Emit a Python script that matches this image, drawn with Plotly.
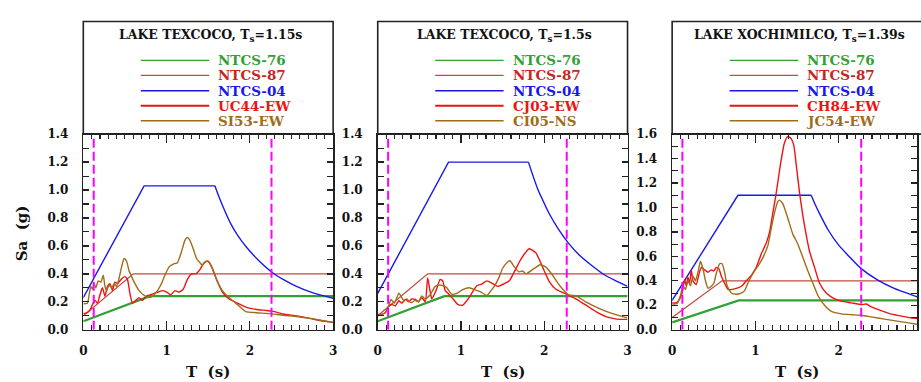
import plotly.graph_objects as go

# ---------------- data ----------------
titles = ["LAKE TEXCOCO, T<sub>s</sub>=1.15s",
          "LAKE TEXCOCO, T<sub>s</sub>=1.5s",
          "LAKE XOCHIMILCO, T<sub>s</sub>=1.39s"]
record_names_red = ["UC44-EW", "CJ03-EW", "CH84-EW"]
record_names_brown = ["SI53-EW", "CI05-NS", "JC54-EW"]
code_names = ["NTCS-76", "NTCS-87", "NTCS-04"]

y_max = [1.4, 1.4, 1.6]
x_max = [3.0, 3.0, 2.94]
x_ticks = [0, 1, 2, 3]
y_ticks_14 = [0.0, 0.2, 0.4, 0.6, 0.8, 1.0, 1.2, 1.4]
y_ticks_16 = [0.0, 0.2, 0.4, 0.6, 0.8, 1.0, 1.2, 1.4, 1.6]

# design spectra
ntcs76_T = [0, 0.8, 3.0]
ntcs76_Sa = [0.06, 0.24, 0.24]
ntcs87_T = [0, 0.6, 3.0]
ntcs87_Sa = [0.10, 0.40, 0.40]

p1_04_T = [0, 0.73, 1.58]
p1_04_Sa = [0.23, 1.03, 1.03]
p1_04d_T = [1.58, 1.63, 1.70, 1.77, 1.86, 1.96, 2.10, 2.27, 2.40, 2.56, 2.75, 3.0]
p1_04d_Sa = [1.03, 0.95, 0.85, 0.76, 0.67, 0.59, 0.50, 0.41, 0.36, 0.31, 0.265, 0.225]

p2_04_T = [0, 0.85, 1.81]
p2_04_Sa = [0.26, 1.2, 1.2]
p2_04d_T = [1.81, 1.86, 1.92, 1.98, 2.06, 2.17, 2.29, 2.42, 2.57, 2.73, 2.88, 3.0]
p2_04d_Sa = [1.2, 1.11, 1.01, 0.93, 0.83, 0.72, 0.62, 0.535, 0.46, 0.39, 0.345, 0.31]

p3_04_T = [0, 0.79, 1.67]
p3_04_Sa = [0.24, 1.1, 1.1]
p3_04d_T = [1.67, 1.72, 1.77, 1.87, 1.99, 2.11, 2.27, 2.46, 2.66, 2.94, 3.0]
p3_04d_Sa = [1.1, 1.02, 0.95, 0.82, 0.70, 0.61, 0.50, 0.41, 0.34, 0.27, 0.255]

# recorded spectra, panel 1
p1_uc44_T = [0, 0.04, 0.08, 0.11, 0.14, 0.17, 0.20, 0.23, 0.26, 0.29,
             0.32, 0.35, 0.38, 0.41, 0.44, 0.47, 0.50, 0.53, 0.56, 0.59,
             0.63, 0.67, 0.71, 0.75, 0.80, 0.85, 0.90, 0.95, 1.00, 1.05,
             1.10, 1.15, 1.20, 1.25, 1.30, 1.35, 1.40, 1.45, 1.50, 1.55,
             1.60, 1.67, 1.75, 1.85, 1.96, 2.08, 2.20, 2.28, 2.40, 2.56,
             2.72, 2.88, 3.0]
p1_uc44_Sa = [0.115, 0.12, 0.14, 0.18, 0.21, 0.19, 0.25, 0.30, 0.24, 0.31,
              0.33, 0.28, 0.34, 0.33, 0.35, 0.37, 0.38, 0.36, 0.26, 0.19,
              0.21, 0.23, 0.21, 0.24, 0.25, 0.26, 0.27, 0.28, 0.27, 0.25,
              0.28, 0.27, 0.29, 0.36, 0.40, 0.40, 0.43, 0.48, 0.49, 0.44,
              0.36, 0.27, 0.22, 0.19, 0.16, 0.145, 0.138, 0.131, 0.113, 0.099,
              0.081, 0.062, 0.053]
p1_si53_T = [0, 0.05, 0.07, 0.09, 0.11, 0.13, 0.15, 0.18, 0.21, 0.24,
             0.26, 0.28, 0.31, 0.34, 0.37, 0.40, 0.43, 0.46, 0.49, 0.52,
             0.55, 0.58, 0.62, 0.67, 0.72, 0.78, 0.83, 0.88, 0.93, 0.98,
             1.03, 1.08, 1.13, 1.18, 1.22, 1.25, 1.28, 1.32, 1.36, 1.40,
             1.43, 1.47, 1.50, 1.54, 1.60, 1.67, 1.77, 1.85, 1.95, 2.08,
             2.24, 2.40, 2.56, 2.72, 2.88, 3.0]
p1_si53_Sa = [0.185, 0.19, 0.25, 0.31, 0.29, 0.33, 0.30, 0.35, 0.34, 0.39,
              0.31, 0.28, 0.32, 0.30, 0.33, 0.31, 0.37, 0.45, 0.51, 0.49,
              0.42, 0.38, 0.33, 0.28, 0.25, 0.23, 0.24, 0.27, 0.32, 0.39,
              0.45, 0.47, 0.48, 0.56, 0.64, 0.66, 0.64, 0.58, 0.51, 0.48,
              0.46, 0.49, 0.49, 0.45, 0.36, 0.28, 0.22, 0.18, 0.13, 0.122,
              0.115, 0.103, 0.095, 0.081, 0.065, 0.052]

# recorded spectra, panel 2
p2_cj03_T = [0, 0.05, 0.095, 0.135, 0.175, 0.21, 0.254, 0.29, 0.333, 0.37,
             0.41, 0.452, 0.49, 0.53, 0.571, 0.60, 0.625, 0.65, 0.70, 0.75,
             0.78, 0.81, 0.845, 0.905, 0.964, 1.02, 1.08, 1.13, 1.19, 1.25,
             1.31, 1.38, 1.44, 1.52, 1.58, 1.64, 1.72, 1.82, 1.90, 1.98,
             2.06, 2.14, 2.29, 2.39, 2.51, 2.63, 2.75, 2.87, 3.0]
p2_cj03_Sa = [0.11, 0.11, 0.126, 0.172, 0.18, 0.17, 0.207, 0.19, 0.217, 0.20,
              0.22, 0.217, 0.20, 0.23, 0.20, 0.37, 0.29, 0.22, 0.28, 0.36,
              0.35, 0.28, 0.26, 0.22, 0.18, 0.175, 0.215, 0.262, 0.315, 0.327,
              0.35, 0.33, 0.31, 0.33, 0.35, 0.414, 0.506, 0.58, 0.55, 0.448,
              0.345, 0.29, 0.248, 0.218, 0.172, 0.126, 0.092, 0.076, 0.074]
p2_ci05_T = [0, 0.05, 0.09, 0.12, 0.16, 0.20, 0.254, 0.28, 0.31, 0.35,
             0.38, 0.41, 0.45, 0.49, 0.53, 0.57, 0.63, 0.69, 0.75, 0.80,
             0.83, 0.89, 0.95, 1.02, 1.10, 1.17, 1.24, 1.31, 1.37, 1.42,
             1.46, 1.50, 1.56, 1.59, 1.64, 1.70, 1.74, 1.78, 1.86, 1.95,
             2.02, 2.10, 2.18, 2.29, 2.39, 2.51, 2.67, 2.82, 3.0]
p2_ci05_Sa = [0.10, 0.11, 0.12, 0.15, 0.216, 0.19, 0.262, 0.24, 0.21, 0.22,
              0.20, 0.195, 0.21, 0.20, 0.241, 0.22, 0.25, 0.31, 0.32, 0.31,
              0.30, 0.253, 0.26, 0.287, 0.30, 0.285, 0.27, 0.245, 0.287, 0.33,
              0.38, 0.44, 0.485, 0.494, 0.45, 0.414, 0.42, 0.40, 0.43, 0.465,
              0.448, 0.39, 0.32, 0.25, 0.241, 0.195, 0.149, 0.115, 0.085]

# recorded spectra, panel 3
p3_ch84_T = [0, 0.05, 0.09, 0.12, 0.15, 0.17, 0.19, 0.21, 0.23, 0.25,
             0.27, 0.29, 0.32, 0.35, 0.39, 0.43, 0.47, 0.50, 0.53, 0.56,
             0.59, 0.63, 0.67, 0.72, 0.78, 0.84, 0.89, 0.95, 1.01, 1.07,
             1.13, 1.17, 1.21, 1.25, 1.30, 1.345, 1.385, 1.42, 1.46, 1.49,
             1.53, 1.57, 1.61, 1.65, 1.71, 1.77, 1.85, 1.93, 2.03, 2.15,
             2.27, 2.33, 2.40, 2.50, 2.62, 2.74, 2.86, 2.94, 3.0]
p3_ch84_Sa = [0.22, 0.22, 0.25, 0.30, 0.41, 0.36, 0.43, 0.38, 0.49, 0.40,
              0.38, 0.37, 0.45, 0.51, 0.49, 0.47, 0.49, 0.48, 0.51, 0.50,
              0.44, 0.38, 0.33, 0.33, 0.34, 0.36, 0.40, 0.445, 0.51, 0.62,
              0.71, 0.80, 0.96, 1.12, 1.35, 1.52, 1.58, 1.57, 1.51, 1.35,
              1.12, 0.93, 0.775, 0.64, 0.51, 0.38, 0.30, 0.26, 0.234, 0.22,
              0.205, 0.21, 0.184, 0.158, 0.13, 0.113, 0.097, 0.092, 0.088]
p3_jc54_T = [0, 0.06, 0.10, 0.13, 0.16, 0.19, 0.22, 0.25, 0.28, 0.31,
             0.34, 0.37, 0.40, 0.43, 0.46, 0.50, 0.53, 0.57, 0.60, 0.63,
             0.66, 0.71, 0.77, 0.83, 0.87, 0.91, 0.97, 1.03, 1.09, 1.15,
             1.19, 1.23, 1.27, 1.29, 1.33, 1.39, 1.45, 1.51, 1.57, 1.63,
             1.69, 1.75, 1.83, 1.91, 2.03, 2.15, 2.27, 2.39, 2.55, 2.74,
             2.94, 3.0]
p3_jc54_Sa = [0.21, 0.215, 0.28, 0.36, 0.33, 0.40, 0.36, 0.44, 0.40, 0.47,
              0.56, 0.50, 0.40, 0.34, 0.35, 0.38, 0.46, 0.54, 0.54, 0.47,
              0.36, 0.30, 0.29, 0.30, 0.32, 0.38, 0.46, 0.52, 0.59, 0.69,
              0.83, 0.96, 1.05, 1.06, 1.03, 0.91, 0.78, 0.70, 0.59, 0.48,
              0.38, 0.28, 0.20, 0.15, 0.13, 0.123, 0.118, 0.105, 0.087, 0.066,
              0.045, 0.04]

# period-range markers (dashed magenta)
t_low = [0.125, 0.125, 0.123]
t_high = [2.26, 2.27, 2.27]

# ---------------- styling ----------------
W, H = 921, 382
C76 = "#33a033"
C87_LINE = "#c24b42"
C87_TEXT = "#c8261c"
C04 = "#1818ee"
CRED = "#f01212"
CBRN = "#a06c1a"
CMAG = "#ff00ff"
AX = "#222222"
SERIF = "DejaVu Serif"

panel_left_px = [80, 377, 674]
panel_w_px = 252
plot_top_px, plot_bot_px, box_top_px = 132, 335, 15


def px_x(px):
    return px / W


def px_y(py):
    return 1 - py / H


fig = go.Figure()

blue_rise = [(p1_04_T, p1_04_Sa), (p2_04_T, p2_04_Sa), (p3_04_T, p3_04_Sa)]
blue_decay = [(p1_04d_T, p1_04d_Sa), (p2_04d_T, p2_04d_Sa), (p3_04d_T, p3_04d_Sa)]
reds = [(p1_uc44_T, p1_uc44_Sa), (p2_cj03_T, p2_cj03_Sa), (p3_ch84_T, p3_ch84_Sa)]
browns = [(p1_si53_T, p1_si53_Sa), (p2_ci05_T, p2_ci05_Sa), (p3_jc54_T, p3_jc54_Sa)]

shapes = []
annotations = []

for i in range(3):
    xa = "x" if i == 0 else f"x{i+1}"
    ya = "y" if i == 0 else f"y{i+1}"
    common = dict(xaxis=xa, yaxis=ya, mode="lines", showlegend=False, hoverinfo="skip")
    fig.add_trace(go.Scatter(x=ntcs76_T, y=ntcs76_Sa, line=dict(color=C76, width=2.2), **common))
    fig.add_trace(go.Scatter(x=ntcs87_T, y=ntcs87_Sa, line=dict(color=C87_LINE, width=1.3), **common))
    fig.add_trace(go.Scatter(x=blue_rise[i][0], y=blue_rise[i][1], line=dict(color=C04, width=1.4), **common))
    fig.add_trace(go.Scatter(x=blue_decay[i][0], y=blue_decay[i][1],
                             line=dict(color=C04, width=1.4, shape="spline", smoothing=0.8), **common))
    fig.add_trace(go.Scatter(x=reds[i][0], y=reds[i][1],
                             line=dict(color=CRED, width=1.4, shape="spline", smoothing=0.5), **common))
    fig.add_trace(go.Scatter(x=browns[i][0], y=browns[i][1],
                             line=dict(color=CBRN, width=1.4, shape="spline", smoothing=0.5), **common))
    for tv in (t_low[i], t_high[i]):
        fig.add_trace(go.Scatter(x=[tv, tv], y=[0, y_max[i]],
                                 line=dict(color=CMAG, width=2, dash="9px,4px"), **common))

    x0 = panel_left_px[i]
    dom_x = [px_x(x0), min(1.0, px_x(x0 + panel_w_px))]
    dom_y = [px_y(plot_bot_px), px_y(plot_top_px)]
    xaxis_cfg = dict(
        domain=dom_x, range=[0, x_max[i]], anchor=ya,
        tickmode="array", tickvals=x_ticks, ticktext=[str(v) for v in x_ticks],
        ticks="inside", ticklen=9, tickwidth=1.3, tickcolor=AX,
        minor=dict(dtick=0.1, tick0=0, ticks="inside", ticklen=4.5, tickwidth=1.1, tickcolor=AX),
        showline=True, linecolor=AX, linewidth=1.6, mirror="ticks",
        showgrid=False, zeroline=False, ticklabelstandoff=9,
        tickfont=dict(family=SERIF, size=12, color="#111", weight="bold"),
    )
    yt = y_ticks_14 if y_max[i] < 1.5 else y_ticks_16
    yaxis_cfg = dict(
        domain=dom_y, range=[0, y_max[i]], anchor=xa,
        tickmode="array", tickvals=yt, ticktext=[f"{v:.1f}" for v in yt],
        ticks="inside", ticklen=6, tickwidth=1.3, tickcolor=AX,
        minor=dict(dtick=0.1, tick0=0, ticks="inside", ticklen=6, tickwidth=1.1, tickcolor=AX),
        showline=True, linecolor=AX, linewidth=1.6, mirror="ticks",
        showgrid=False, zeroline=False, ticklabelstandoff=11,
        tickfont=dict(family=SERIF, size=12, color="#111", weight="bold"),
    )
    fig.update_layout({("xaxis" if i == 0 else f"xaxis{i+1}"): xaxis_cfg,
                       ("yaxis" if i == 0 else f"yaxis{i+1}"): yaxis_cfg})

    # header box (title + legend)
    bx1 = x0 + panel_w_px
    shapes.append(dict(type="rect", xref="paper", yref="paper",
                       x0=px_x(x0), x1=px_x(bx1), y0=px_y(plot_top_px), y1=px_y(box_top_px),
                       line=dict(color=AX, width=1.6), fillcolor="rgba(0,0,0,0)", layer="above"))
    annotations.append(dict(text=titles[i], xref="paper", yref="paper",
                            x=px_x(x0 + 128), y=px_y(30), xanchor="center", yanchor="middle",
                            showarrow=False,
                            font=dict(family=SERIF, size=12.5, color="#111", weight="bold")))
    leg_items = [(code_names[0], C76, C76, 1.3), (code_names[1], C87_LINE, C87_TEXT, 1.3),
                 (code_names[2], C04, C04, 1.6), (record_names_red[i], CRED, CRED, 1.8),
                 (record_names_brown[i], CBRN, CBRN, 1.6)]
    rows = [55.5, 71, 87, 102.5, 118]
    for (name, lc, tc, lw), ry in zip(leg_items, rows):
        shapes.append(dict(type="line", xref="paper", yref="paper",
                           x0=px_x(x0 + 58), x1=px_x(x0 + 127), y0=px_y(ry), y1=px_y(ry),
                           line=dict(color=lc, width=lw)))
        annotations.append(dict(text=name, xref="paper", yref="paper",
                                x=px_x(x0 + 134), y=px_y(ry), xanchor="left", yanchor="middle",
                                showarrow=False,
                                font=dict(family=SERIF, size=13.5, color=tc, weight="bold")))
    annotations.append(dict(text="T  (s)", xref="paper", yref="paper",
                            x=px_x(x0 + 126), y=px_y(379), xanchor="center", yanchor="middle",
                            showarrow=False,
                            font=dict(family=SERIF, size=15, color="#111", weight="bold")))

annotations.append(dict(text="Sa  (g)", xref="paper", yref="paper", textangle=-90,
                        x=px_x(19), y=px_y(235), xanchor="center", yanchor="middle",
                        showarrow=False,
                        font=dict(family=SERIF, size=15, color="#111", weight="bold")))

fig.update_layout(width=W, height=H, margin=dict(l=0, r=0, t=0, b=0),
                  paper_bgcolor="white", plot_bgcolor="white",
                  shapes=shapes, annotations=annotations, showlegend=False)

fig.write_html("out.html", config={"displayModeBar": False, "staticPlot": True},
               post_script="document.body.style.margin='0';document.body.style.overflow='hidden';")
